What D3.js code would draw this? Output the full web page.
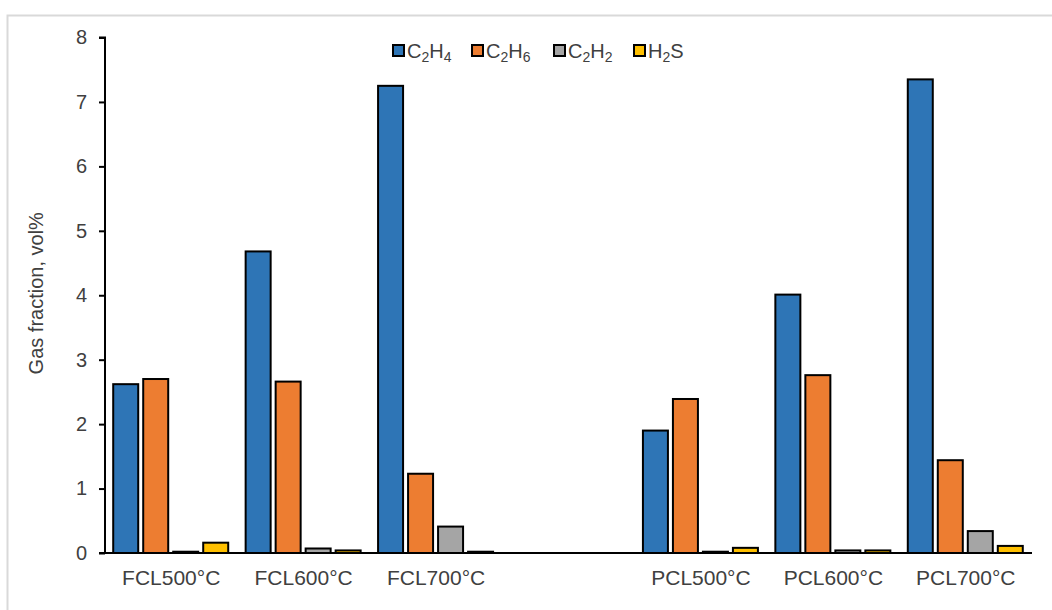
<!DOCTYPE html>
<html>
<head>
<meta charset="utf-8">
<script src="https://cdn.jsdelivr.net/npm/d3@7"></script>
<style>
  html, body { margin: 0; padding: 0; background: #fff; }
  svg { display: block; font-family: "Liberation Sans", Arial, sans-serif; }
</style>
</head>
<body>
<svg id="chart" width="1052" height="610"></svg>
<script>
// Sample categories (an empty slot separates the two feedstocks)
const categories = ["FCL500°C", "FCL600°C", "FCL700°C", "", "PCL500°C", "PCL600°C", "PCL700°C"];

// Gas fractions, vol%, per category (null = empty slot)
const c2h4 = [2.62, 4.68, 7.25, null, 1.90, 4.01, 7.35];
const c2h6 = [2.70, 2.66, 1.23, null, 2.39, 2.76, 1.44];
const c2h2 = [0.02, 0.07, 0.41, null, 0.02, 0.04, 0.34];
const h2s  = [0.16, 0.04, 0.02, null, 0.08, 0.04, 0.11];

const yTicks = [0, 1, 2, 3, 4, 5, 6, 7, 8];

// Series definitions: label parts (text + subscript flag) and fill
const series = [
  { key: "C2H4", values: c2h4, color: "#2E75B6", label: [["C", false], ["2", true], ["H", false], ["4", true]] },
  { key: "C2H6", values: c2h6, color: "#ED7D31", label: [["C", false], ["2", true], ["H", false], ["6", true]] },
  { key: "C2H2", values: c2h2, color: "#A5A5A5", label: [["C", false], ["2", true], ["H", false], ["2", true]] },
  { key: "H2S",  values: h2s,  color: "#FFC000", label: [["H", false], ["2", true], ["S", false]] }
];

const svg = d3.select("#chart");
const textColor = "#404040";

// Outer frame of the figure
svg.append("rect")
  .attr("x", 7.5).attr("y", 15.5)
  .attr("width", 1060).attr("height", 620)
  .attr("fill", "none").attr("stroke", "#d9d9d9").attr("stroke-width", 2);

const plot = { left: 105, right: 1032, top: 37.5, bottom: 553 };

const x0 = d3.scaleBand().domain(d3.range(categories.length))
  .range([plot.left, plot.right]).paddingInner(0).paddingOuter(0);
const groupWidth = 120;
const x1 = d3.scaleBand().domain(series.map(s => s.key))
  .range([0, groupWidth]).padding(0);
const y = d3.scaleLinear().domain([0, 8]).range([plot.bottom, plot.top]);

// Bars
const groups = svg.append("g").selectAll("g")
  .data(categories.map((c, i) => i))
  .join("g")
  .attr("transform", i => `translate(${x0(i) + x0.bandwidth() / 2 - groupWidth / 2},0)`);

groups.selectAll("rect")
  .data(i => series.filter(s => s.values[i] != null).map(s => ({ s, v: s.values[i] })))
  .join("rect")
  .attr("x", d => x1(d.s.key) + 2)
  .attr("width", x1.bandwidth() - 5)
  .attr("y", d => y(d.v))
  .attr("height", d => y(0) - y(d.v))
  .attr("fill", d => d.s.color)
  .attr("stroke", "#000")
  .attr("stroke-width", 2);

// Y axis
const yAxis = d3.axisLeft(y).tickValues(yTicks).tickSize(6).tickPadding(12).tickFormat(d3.format("d"));
const yg = svg.append("g").attr("transform", `translate(${plot.left},0)`).call(yAxis);
yg.select(".domain").attr("stroke", "#000").attr("stroke-width", 2).attr("d", `M-6,${plot.top}H0V${plot.bottom}`);
yg.selectAll(".tick line").attr("stroke", "#000").attr("stroke-width", 2);
yg.selectAll(".tick text").attr("fill", textColor).style("font-size", "20px");

// X axis
const xAxis = d3.axisBottom(x0).tickSize(0).tickPadding(17).tickFormat(i => categories[i]);
const xg = svg.append("g").attr("transform", `translate(0,${plot.bottom})`).call(xAxis);
xg.select(".domain").attr("stroke", "#000").attr("stroke-width", 2).attr("d", `M${plot.left - 6},0H${plot.right}`);
xg.selectAll(".tick text").attr("fill", textColor).style("font-size", "21px");

// Y axis title
svg.append("text")
  .attr("transform", `translate(43,${(plot.top + plot.bottom) / 2 - 2}) rotate(-90)`)
  .attr("text-anchor", "middle")
  .attr("fill", textColor)
  .style("font-size", "20px")
  .text("Gas fraction, vol%");

// Legend
const legendX = [392, 471, 553, 633];
const legend = svg.append("g");
series.forEach((s, i) => {
  const g = legend.append("g").attr("transform", `translate(${legendX[i]},51)`);
  g.append("rect").attr("x", 1).attr("y", -6).attr("width", 11).attr("height", 11)
    .attr("fill", s.color).attr("stroke", "#000").attr("stroke-width", 2);
  const t = g.append("text").attr("x", 15).attr("y", 7).attr("fill", textColor).style("font-size", "20px");
  let prevSub = false;
  s.label.forEach(([txt, sub]) => {
    // Drop into subscript, then return to the baseline afterwards
    const dy = sub && !prevSub ? 4 : (!sub && prevSub ? -4 : 0);
    t.append("tspan")
      .attr("dy", dy)
      .style("font-size", sub ? "14px" : "20px")
      .text(txt);
    prevSub = sub;
  });
});
</script>
</body>
</html>
